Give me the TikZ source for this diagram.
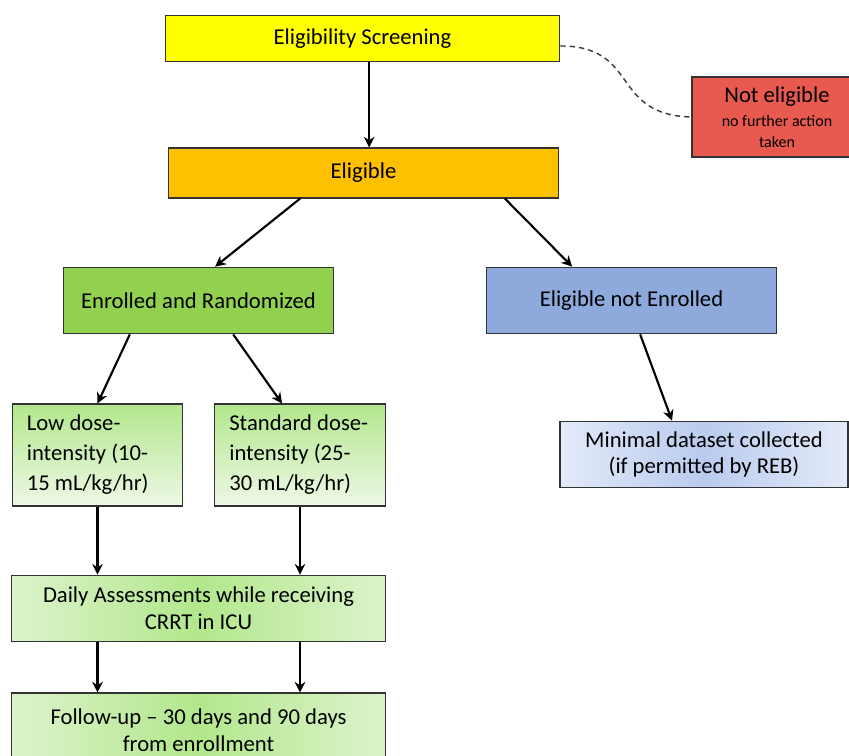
\documentclass[tikz,border=0pt]{standalone}
\usepackage{fontspec}
\setmainfont{Carlito}
\usetikzlibrary{arrows.meta}
\definecolor{screenyellow}{HTML}{FFFF00}
\definecolor{eligorange}{HTML}{FFC000}
\definecolor{enrollgreen}{HTML}{92D050}
\definecolor{notenrblue}{HTML}{8EA9DB}
\definecolor{notelired}{HTML}{E85A4F}
\definecolor{armtop}{HTML}{B2E78C}
\definecolor{armbot}{HTML}{EEF8E6}
\definecolor{mininner}{HTML}{BACBEE}
\definecolor{minouter}{HTML}{E3EAF9}
\tikzset{
  box/.style={rectangle, draw=black!80, line width=0.8pt, align=center,
    font=\fontsize{17}{20}\selectfont, inner sep=2pt},
  armbox/.style={box, top color=armtop, bottom color=armbot, align=flush left,
    text width=106pt, inner xsep=11pt, minimum width=128pt, minimum height=76.5pt,
    font=\fontsize{17}{22.5}\selectfont},
  greenbox/.style={box, left color=armbot!70!armtop, right color=armbot!70!armtop, middle color=armtop},
  flow/.style={-{Stealth[length=8pt,width=8pt]}, line width=1.6pt},
}
\begin{document}
\begin{tikzpicture}[x=0.75pt, y=-0.75pt]
        \useasboundingbox (0,0) rectangle (849,756);
        % Nodes (top to bottom)
        \node (screen) at (362.5,38.5) [box, fill=screenyellow, minimum width=296pt, minimum height=35pt] {Eligibility Screening};
        \node (noteli) at (777,117) [box, fill=notelired, minimum width=127.5pt, minimum height=60pt, font=\fontsize{17}{16}\selectfont] {Not eligible\\[2pt]{\fontsize{12}{16}\selectfont no further action}\\{\fontsize{12}{16}\selectfont taken}};
        \node (elig) at (363.5,173) [box, fill=eligorange, minimum width=293pt, minimum height=37.5pt] {Eligible};
        \node (enroll) at (198.5,300.5) [box, fill=enrollgreen, minimum width=203pt, minimum height=50pt] {Enrolled and Randomized};
        \node (notenr) at (631.5,300.5) [box, fill=notenrblue, minimum width=217pt, minimum height=50pt] {Eligible not Enrolled};
        \node (low) at (97.5,455) [armbox] {Low dose-\\intensity (10-\\15 mL/kg/hr)};
        \node (std) at (300,455) [armbox] {Standard dose-\\intensity (25-\\30 mL/kg/hr)};
        \node (minimal) at (704,454.5) [box, left color=minouter, right color=minouter, middle color=mininner, minimum width=216pt, minimum height=50pt] {Minimal dataset collected\\(if permitted by REB)};
        \node (daily) at (198.5,608.5) [greenbox, minimum width=280pt, minimum height=50pt] {Daily Assessments while receiving\\CRRT in ICU};
        \node (follow) at (198.5,730) [greenbox, minimum width=280pt, minimum height=55.5pt] {Follow-up -- 30 days and 90 days\\from enrollment};
        % Edges
        \draw[flow] ([xshift=5pt]screen.south) -- ([xshift=5pt]screen.south |- elig.north);
        \draw[dash pattern=on 4pt off 3pt, line width=1.1pt, black!75] ([yshift=-5.6pt]screen.east) .. controls (640,46) and (610,115) .. (noteli.west);
        \draw[flow] ([xshift=-47.5pt]elig.south) -- ([xshift=12.5pt]enroll.north);
        \draw[flow] ([xshift=106pt]elig.south) -- ([xshift=-44.5pt]notenr.north);
        \draw[flow] ([xshift=-51.5pt]enroll.south) -- (low.north);
        \draw[flow] ([xshift=26pt]enroll.south) -- ([xshift=-13.5pt]std.north);
        \draw[flow] ([xshift=6.5pt]notenr.south) -- ([xshift=-24pt]minimal.north);
        \draw[flow] (low.south) -- (low.south |- daily.north);
        \draw[flow] (std.south) -- (std.south |- daily.north);
        \draw[flow] (low.south |- daily.south) -- (low.south |- follow.north);
        \draw[flow] (std.south |- daily.south) -- (std.south |- follow.north);
\end{tikzpicture}
\end{document}
